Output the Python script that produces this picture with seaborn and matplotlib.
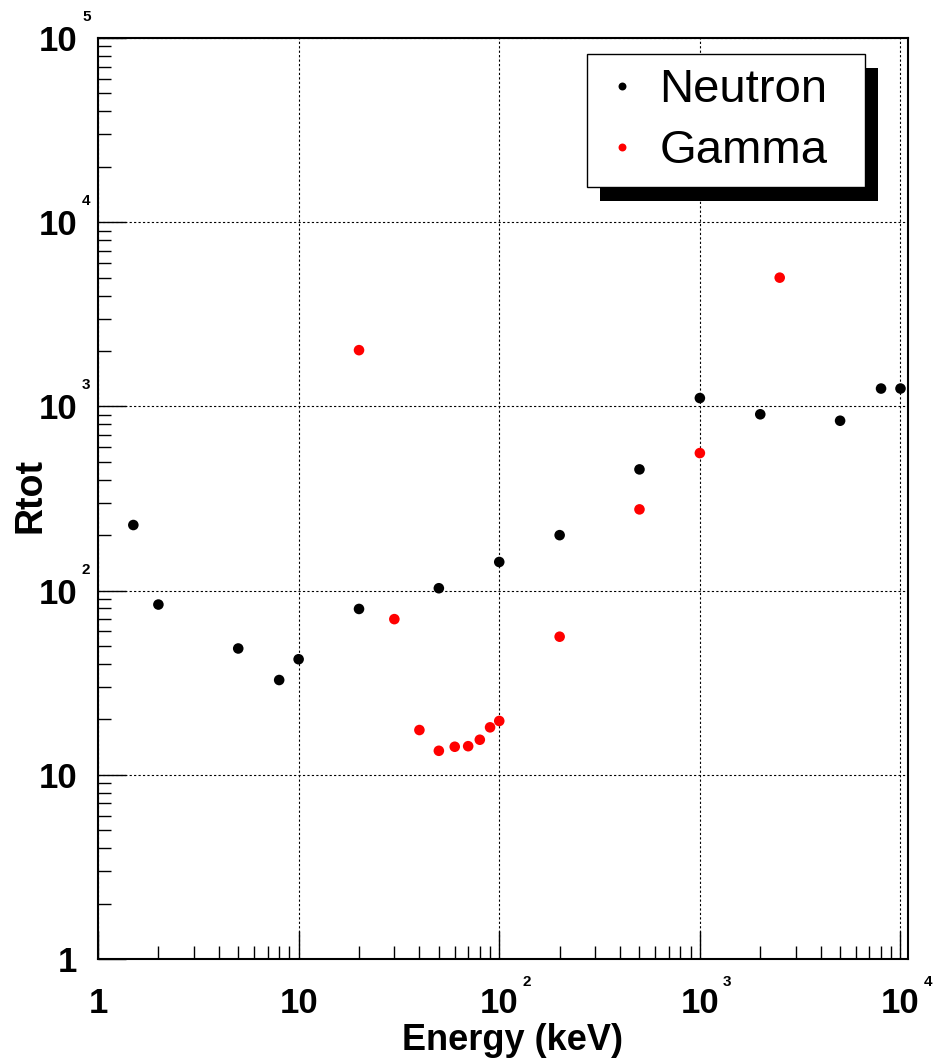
import pandas as pd
import matplotlib
matplotlib.use('Agg')
import matplotlib.pyplot as plt
import matplotlib.transforms as mtransforms
from matplotlib.patches import Rectangle
from matplotlib.ticker import LogLocator, NullFormatter
import seaborn as sns

# Valores (Rtot vs energia)
neutron_energy = [1.5, 2, 5, 8, 10, 20, 50, 100, 200, 500, 1000, 2000, 5000, 8000, 10000]
neutron_rtot = [227, 84, 48.5, 32.7, 42.4, 79.5, 103, 143, 200, 455, 1110, 906, 836, 1250, 1250]
gamma_energy = [20, 30, 40, 50, 60, 70, 80, 90, 100, 200, 500, 1000, 2500]
gamma_rtot = [2020, 70, 17.5, 13.5, 14.2, 14.3, 15.5, 18.1, 19.6, 56.2, 276, 558, 5000]

x_decades = [0, 1, 2, 3, 4]
y_decades = [0, 1, 2, 3, 4, 5]

df = pd.concat([
    pd.DataFrame({'energy': neutron_energy, 'rtot': neutron_rtot, 'particle': 'Neutron'}),
    pd.DataFrame({'energy': gamma_energy, 'rtot': gamma_rtot, 'particle': 'Gamma'}),
], ignore_index=True)

plt.rcParams['font.family'] = ['Liberation Sans', 'DejaVu Sans']

fig = plt.figure(figsize=(9.36, 10.58), dpi=100)
fig.patch.set_facecolor('white')
ax = fig.add_axes([98 / 936, 1 - 959 / 1058, 810 / 936, 921 / 1058])

sns.scatterplot(data=df, x='energy', y='rtot', hue='particle',
                palette={'Neutron': 'black', 'Gamma': 'red'},
                s=58, linewidth=0, ax=ax, zorder=3)

ax.set_xscale('log')
ax.set_yscale('log')
ax.set_xlim(1, 1.09e4)
ax.set_ylim(1, 1e5)

# etiquetas de los ejes estilo ROOT: "10" + exponente pequeño
def base_label(k):
    return '1' if k == 0 else '10'

ax.set_xticks([10 ** k for k in x_decades], [base_label(k) for k in x_decades],
              fontsize=25, fontweight='bold')
ax.set_yticks([10 ** k for k in y_decades], [base_label(k) for k in y_decades],
              fontsize=25, fontweight='bold')
ax.xaxis.set_minor_locator(LogLocator(base=10, subs=range(2, 10), numticks=20))
ax.yaxis.set_minor_locator(LogLocator(base=10, subs=range(2, 10), numticks=20))
ax.xaxis.set_minor_formatter(NullFormatter())
ax.yaxis.set_minor_formatter(NullFormatter())

ax.tick_params(which='both', direction='in', top=False, right=False, width=1, color='black')
ax.tick_params(which='major', length=20)
ax.tick_params(which='minor', length=9.5)
ax.tick_params(axis='x', which='major', pad=20)
ax.tick_params(axis='y', which='major', pad=15)

ax.grid(True, which='major', color='black', linestyle=(0, (2, 2)), linewidth=0.8)
for sp in ax.spines.values():
    sp.set_linewidth(1.5)
    sp.set_color('black')

sup_font = dict(fontsize=11, fontweight='bold', color='black')
for k in x_decades:
    if k >= 2:
        tr = mtransforms.blended_transform_factory(ax.transData, ax.transAxes) + \
            mtransforms.ScaledTranslation(0.23, -0.30, fig.dpi_scale_trans)
        ax.text(10 ** k, 0, str(k), transform=tr, ha='left', va='bottom', clip_on=False, **sup_font)
for k in y_decades:
    if k >= 2:
        tr = mtransforms.blended_transform_factory(ax.transAxes, ax.transData) + \
            mtransforms.ScaledTranslation(-0.16, 0.14, fig.dpi_scale_trans)
        ax.text(0, 10 ** k, str(k), transform=tr, ha='left', va='bottom', clip_on=False, **sup_font)

ax.set_xlabel('Energy (keV)', fontsize=26, fontweight='bold')
ax.xaxis.set_label_coords(0.512, -0.0695)
ax.set_ylabel('Rtot', fontsize=27, fontweight='bold', va='center')
ax.yaxis.set_label_coords(-0.083, 0.503)

# leyenda con sombra negra
handles, labels = ax.get_legend_handles_labels()
leg = ax.legend(handles, labels, loc='upper left', mode='expand',
                bbox_to_anchor=(587 / 936, 1 - 54 / 1058, 278 / 936, 0),
                bbox_transform=fig.transFigure, borderaxespad=0,
                fontsize=34, markerscale=0.75, handlelength=0.9, handletextpad=0.33,
                borderpad=0.3, labelspacing=0.36, frameon=True, fancybox=False,
                framealpha=1, edgecolor='black')
leg.get_frame().set_linewidth(1.0)
leg.set_zorder(6)

fig.canvas.draw()
bb = leg.get_window_extent()
shadow = Rectangle((bb.x0 + 13, bb.y0 - 14), bb.width, bb.height, facecolor='black',
                   edgecolor='none', transform=mtransforms.IdentityTransform(),
                   zorder=5, clip_on=False)
ax.add_patch(shadow)

fig.savefig('out.png', dpi=100, facecolor='white')
